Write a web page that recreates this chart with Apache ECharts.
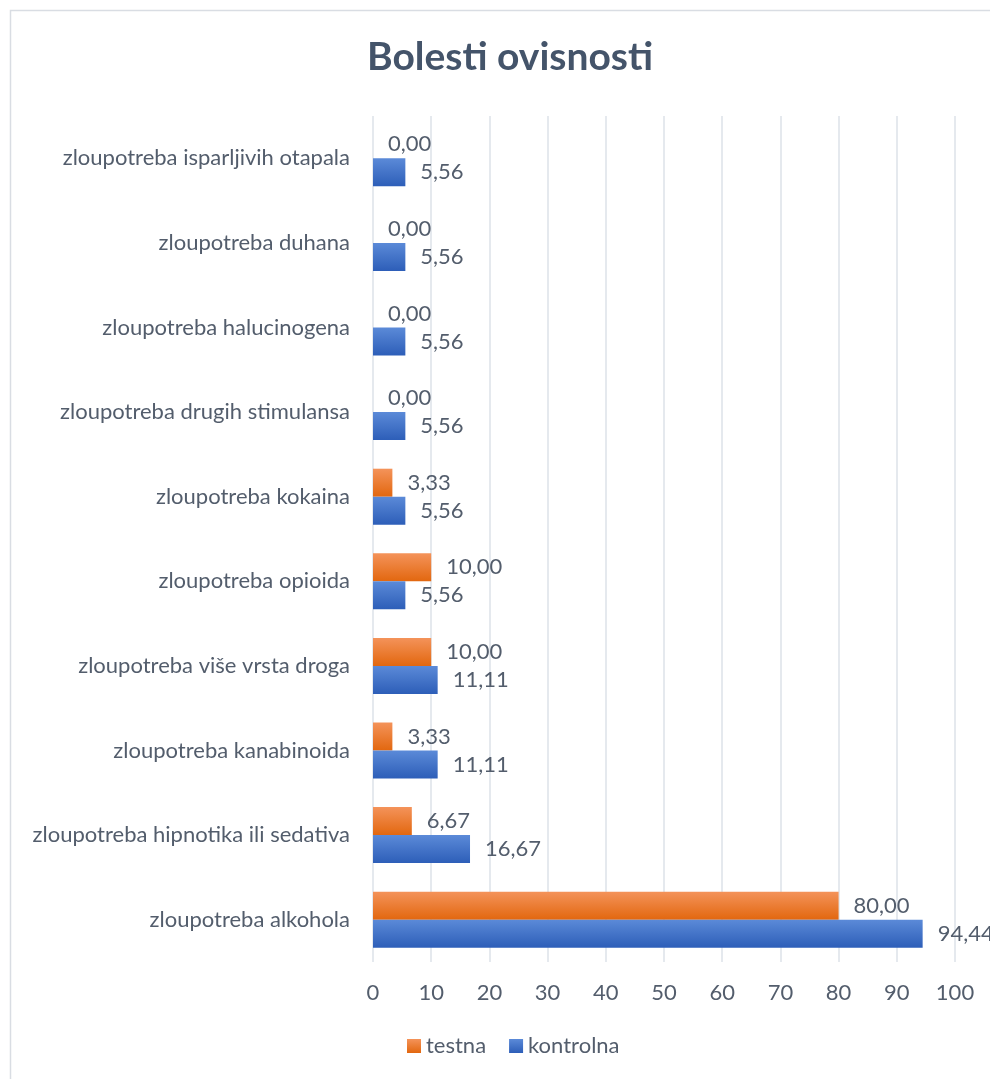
<!DOCTYPE html>
<html>
<head>
<meta charset="utf-8">
<title>Bolesti ovisnosti</title>
<script src="https://cdn.jsdelivr.net/npm/echarts@6/dist/echarts.min.js"></script>
<style>
  html, body { margin: 0; padding: 0; background: #fff; }
  #chart { width: 990px; height: 1079px; }
</style>
</head>
<body>
<div id="chart"></div>
<script>
// kategorije (odozdo prema gore)
var categories = [
    "zloupotreba alkohola",
    "zloupotreba hipnotika ili sedativa",
    "zloupotreba kanabinoida",
    "zloupotreba više vrsta droga",
    "zloupotreba opioida",
    "zloupotreba kokaina",
    "zloupotreba drugih stimulansa",
    "zloupotreba halucinogena",
    "zloupotreba duhana",
    "zloupotreba isparljivih otapala"
];
var testna = [80.00, 6.67, 3.33, 10.00, 10.00, 3.33, 0.00, 0.00, 0.00, 0.00];
var kontrolna = [94.44, 16.67, 11.11, 11.11, 5.56, 5.56, 5.56, 5.56, 5.56, 5.56];
var xTicks = [0, 100, 10]; // min, max, interval

var textColor = "#535d6c";
var fontFamily = "Lato, 'Noto Sans', sans-serif";
var fs = 22;

function grad(top, bottom) {
    return new echarts.graphic.LinearGradient(0, 0, 0, 1, [
        { offset: 0, color: top },
        { offset: 1, color: bottom }
    ]);
}

function fmt(p) {
    return p.value.toFixed(2).replace(".", ",");
}

var chart = echarts.init(document.getElementById("chart"));
chart.setOption({
    backgroundColor: "#fff",
    animation: false,
    textStyle: { fontFamily: fontFamily },
    graphic: [{
        type: "rect",
        shape: { x: 10.5, y: 10.5, width: 1000, height: 1100 },
        style: { fill: "none", stroke: "#d9dde3", lineWidth: 1.5 },
        silent: true
    }],
    title: {
        text: "Bolesti ovisnosti",
        left: 362,
        top: 33,
        textStyle: { color: "#44546a", fontSize: 39, fontWeight: "bold", fontFamily: fontFamily }
    },
    legend: {
        bottom: 17,
        left: 402,
        itemWidth: 14,
        itemHeight: 14,
        itemGap: 23,
        icon: "rect",
        textStyle: { color: textColor, fontSize: fs, fontFamily: fontFamily },
        data: ["testna", "kontrolna"]
    },
    grid: { left: 373, right: 35, top: 116, bottom: 117, containLabel: false },
    xAxis: {
        type: "value",
        min: xTicks[0],
        max: xTicks[1],
        interval: xTicks[2],
        axisLine: { show: false },
        axisTick: { show: false },
        axisLabel: { color: textColor, fontSize: fs, margin: 20, fontFamily: fontFamily },
        splitLine: { show: true, lineStyle: { color: "#dde2e8", width: 1.5 } }
    },
    yAxis: {
        type: "category",
        data: categories,
        axisLine: { show: false },
        axisTick: { show: false },
        axisLabel: { color: textColor, fontSize: fs, margin: 23, fontFamily: fontFamily }
    },
    series: [
        {
            name: "testna",
            type: "bar",
            data: testna,
            barWidth: 28,
            barGap: "0%",
            itemStyle: { color: grad("#f4935a", "#e2670f") },
            label: {
                show: true, position: "right", distance: 15,
                color: textColor, fontSize: fs, fontFamily: fontFamily, formatter: fmt
            }
        },
        {
            name: "kontrolna",
            type: "bar",
            data: kontrolna,
            barWidth: 28,
            barGap: "0%",
            itemStyle: { color: grad("#5b8ad8", "#2d5eb8") },
            label: {
                show: true, position: "right", distance: 15,
                color: textColor, fontSize: fs, fontFamily: fontFamily, formatter: fmt
            }
        }
    ]
});
</script>
</body>
</html>
